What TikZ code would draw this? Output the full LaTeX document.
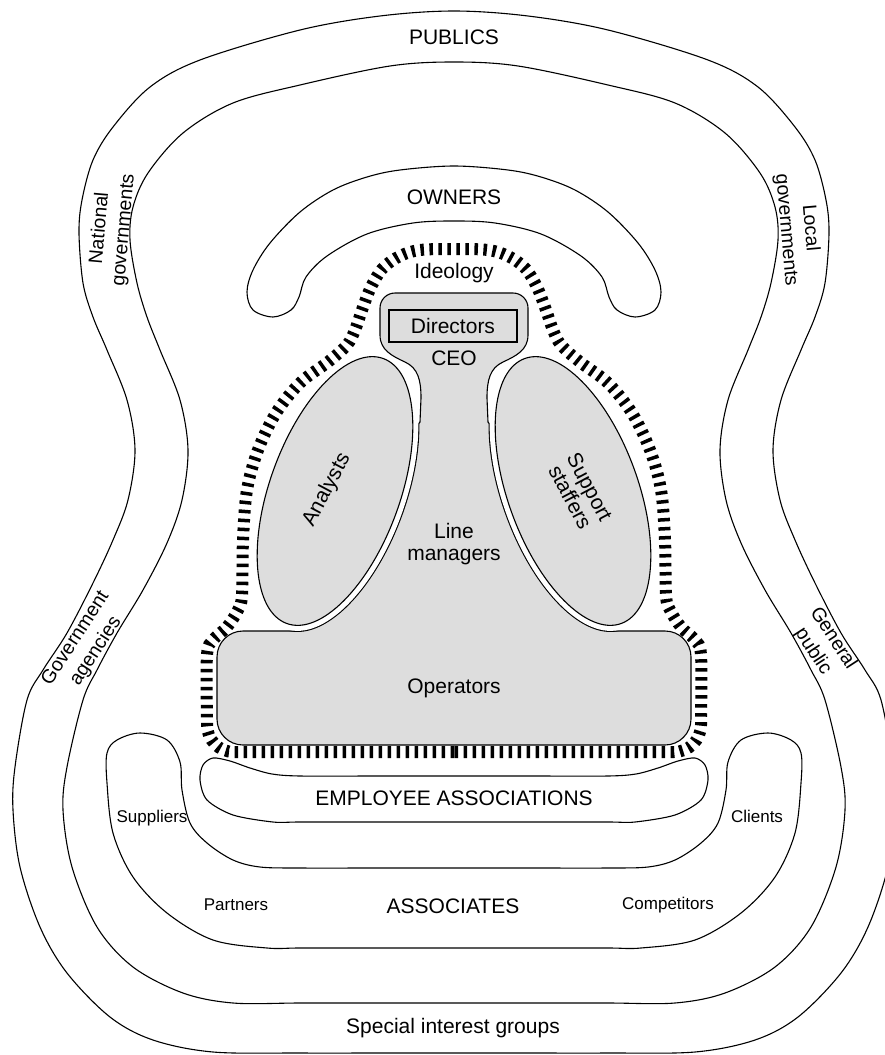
\documentclass[tikz,border=0pt]{standalone}
\usepackage{fontspec}
\setmainfont{Liberation Sans}
\definecolor{greyfill}{RGB}{221,221,221}
\begin{document}
\begin{tikzpicture}[x=1pt,y=-1pt,
  ln/.style={line width=1.1pt, black},
  ideo/.style={line width=12pt, black, dash pattern=on 3.5pt off 5.5pt},
  big/.style={font=\fontsize{21}{22}\selectfont, inner sep=0pt, align=center},
  small/.style={font=\fontsize{17}{20}\selectfont, inner sep=0pt},
  side/.style={font=\fontsize{19.5}{24}\selectfont, inner sep=0pt, align=center},
  ellL/.style={rotate around={-20:(335,491)}},
  ellR/.style={rotate around={20:(573,491)}},
  ppath/.style={insert path={(217,719) -- (217,657) .. controls (217,642.6) and (228.6,631) .. (243,631)
     -- (300,631) -- (312,612) -- (380,480) -- (405,440) -- (420,422) -- (421,398)
     .. controls (421,380) and (418,368) .. (405,362) .. controls (392,356) and (380,350) .. (380,335)
     -- (380,308) .. controls (380,299.7) and (386.7,293) .. (395,293) -- (513,293)
     .. controls (521.3,293) and (528,299.7) .. (528,308) -- (528,335)
     .. controls (528,350) and (516,356) .. (503,362) .. controls (490,368) and (487,380) .. (487,398)
     -- (488,422) -- (503,440) -- (528,480) -- (596,612) -- (608,631) -- (665,631)
     .. controls (679.4,631) and (691,642.6) .. (691,657) -- (691,719)
     .. controls (691,733.4) and (679.4,745) .. (665,745) -- (243,745)
     .. controls (228.6,745) and (217,733.4) .. (217,719) -- cycle}}
]
\useasboundingbox (0,0) rectangle (885,1055);
\clip (0,0) rectangle (885,1055);

% PUBLICS outer boundary
\draw[ln] plot[smooth cycle, tension=0.55] coordinates {(454,11) (528,16) (608,30) (708,60) (758,87) (795,127) (815,160) (826,200) (829,233) (825,283) (815,317) (801,350) (781,400) (773,450) (780,500) (795,540) (815,583) (841,633) (865,670) (881,700) (893,767) (895,810) (888,867) (868,927) (841,973) (798,1017) (755,1040) (695,1052) (608,1053) (530,1053) (454,1053) (378,1053) (300,1053) (213,1052) (153,1040) (110,1017) (67,973) (40,927) (20,867) (13,810) (15,767) (27,700) (43,670) (67,633) (93,583) (113,540) (128,500) (135,450) (127,400) (107,350) (93,317) (83,283) (79,233) (82,200) (93,160) (113,127) (150,87) (200,60) (300,30) (380,16)};

% PUBLICS inner boundary
\draw[ln] plot[smooth cycle, tension=0.55] coordinates {(454,62) (518,66) (608,85) (675,103) (725,133) (760,173) (775,207) (778,240) (771,283) (761,317) (748,350) (728,400) (720,450) (726,500) (741,543) (765,590) (791,633) (811,670) (825,700) (841,767) (845,810) (836,867) (811,927) (775,967) (725,993) (675,1003) (608,1003) (530,1003) (454,1003) (378,1003) (300,1003) (233,1003) (183,993) (133,967) (97,927) (72,867) (63,810) (67,767) (83,700) (97,670) (117,633) (143,590) (167,543) (182,500) (188,450) (180,400) (160,350) (147,317) (137,283) (130,240) (133,207) (148,173) (183,133) (233,103) (300,85) (390,66)};

% OWNERS
\draw[ln] plot[smooth cycle, tension=0.55] coordinates {(454,166) (508,170) (541,177) (575,190) (608,212) (638,243) (655,270) (661,292) (655,310) (635,317) (617,310) (609,297) (602,277) (581,256) (541,234) (495,223) (454,221) (413,223) (367,234) (327,256) (306,277) (299,297) (291,310) (273,317) (253,310) (247,292) (253,270) (270,243) (300,212) (333,190) (367,177) (400,170)};

% ASSOCIATES
\draw[ln] plot[smooth cycle, tension=0.55] coordinates {(140,733) (167,740) (180,762) (182,790) (190,823) (207,843) (233,860) (260,867) (300,868) (377,868) (454,868) (531,868) (608,868) (648,867) (675,860) (701,843) (718,823) (726,790) (728,762) (741,740) (768,733) (791,740) (801,753) (801,783) (795,833) (775,877) (741,913) (695,940) (641,948) (608,948) (531,948) (454,948) (377,948) (300,948) (267,948) (213,940) (167,913) (133,877) (113,833) (107,783) (107,753) (117,740)};

% EMPLOYEE ASSOCIATIONS
\draw[ln] plot[smooth cycle, tension=0.5] coordinates {(213,758) (230,761) (250,768) (272,774) (300,776) (377,776) (454,776) (531,776) (608,776) (636,774) (658,768) (678,761) (695,758) (705,765) (708,780) (701,800) (675,815) (635,822) (608,822) (531,822) (454,822) (377,822) (300,822) (273,822) (233,815) (207,800) (200,780) (203,765)};

% central grey region
\fill[greyfill, ppath];
\draw[ln, ppath];
\begin{scope}
  \clip[ppath];
  \draw[line width=13.2pt, black, ellL] (335,491) ellipse [x radius=65pt, y radius=141pt];
  \draw[line width=13.2pt, black, ellR] (573,491) ellipse [x radius=65pt, y radius=141pt];
\end{scope}
\draw[line width=11pt, white, ellL] (335,491) ellipse [x radius=65pt, y radius=141pt];
\draw[line width=11pt, white, ellR] (573,491) ellipse [x radius=65pt, y radius=141pt];
\draw[ln, fill=greyfill, ellL] (335,491) ellipse [x radius=65pt, y radius=141pt];
\draw[ln, fill=greyfill, ellR] (573,491) ellipse [x radius=65pt, y radius=141pt];

% Ideology boundary
\draw[ideo] (454,752) -- (234,752) .. controls (219.1,752) and (207,739.9) .. (207,725)
  -- plot[smooth, tension=0.55] coordinates {(207,720) (207,655) (213,640) (227,627) (238,610) (242,595) (243,540) (247,490) (258,450) (276,413) (300,383) (328,362) (347,345) (355,330) (362,310) (371,287) (383,268) (400,256) (420,250) (454,249) (488,250) (508,256) (525,268) (537,287) (546,310) (553,330) (561,345) (580,362) (608,383) (632,413) (650,450) (661,490) (665,540) (666,595) (670,610) (681,627) (695,640) (701,655) (701,720)}
  -- (701,725) .. controls (701,739.9) and (688.9,752) .. (674,752) -- (454,752);

% labels
\node[big] (pub) at (454,37) {PUBLICS};
\node[big] (own) at (454,197) {OWNERS};
\node[big] (ideol) at (454,273) {Ideology};
\node[big, draw, line width=1.6pt, minimum width=128pt, minimum height=32pt] (dir) at (453,326) {Directors};
\node[big] (ceo) at (454,358) {CEO};
\node[big] (lm) at (454,544) {Line\\managers};
\node[big] (op) at (454,688) {Operators};
\node[big, rotate=62] (an) at (327,490) {Analysts};
\node[big, rotate=-62] (ss) at (580,492) {Support\\staffers};
\node[big] (ea) at (454,798) {EMPLOYEE ASSOCIATIONS};
\node[big] (as) at (453,906) {ASSOCIATES};
\node[big] (sig) at (453,1028) {Special interest groups};
\node[small] (sup) at (152,818) {Suppliers};
\node[small] (cli) at (757,816) {Clients};
\node[small] (par) at (236,905) {Partners};
\node[small] (com) at (668,905) {Competitors};
\node[side, rotate=85] (nat) at (112,229) {National\\governments};
\node[side, rotate=-85] (loc) at (798,229) {Local\\governments};
\node[side, rotate=57] (gov) at (86,645) {Government\\agencies};
\node[side, rotate=-57] (gen) at (823,645) {General\\public};
\end{tikzpicture}
\end{document}
